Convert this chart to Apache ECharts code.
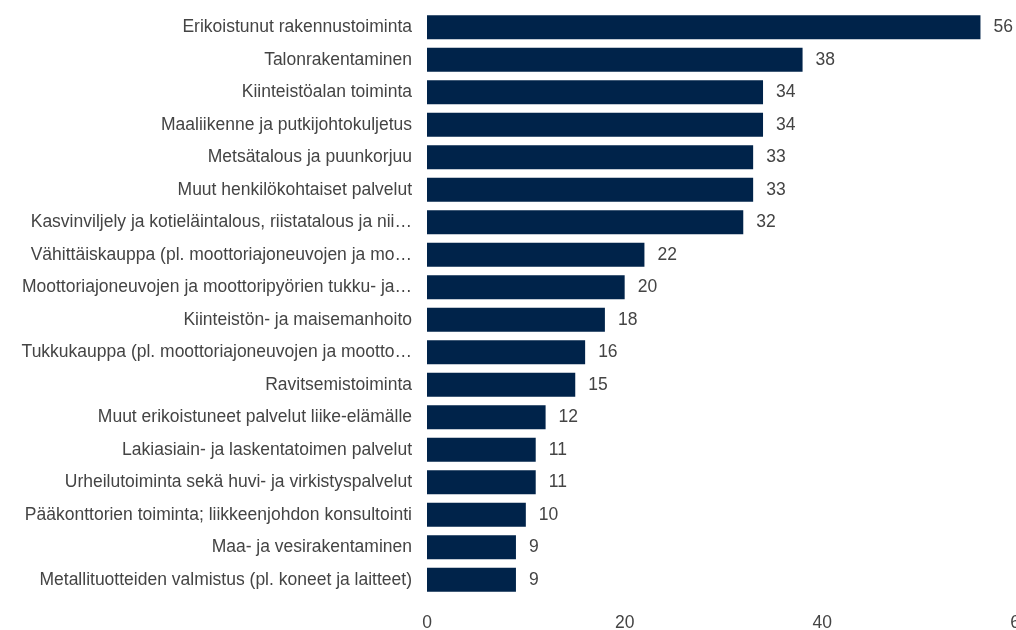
<!DOCTYPE html>
<html>
<head>
<meta charset="utf-8">
<script src="https://cdn.jsdelivr.net/npm/echarts@6/dist/echarts.min.js"></script>
<style>html,body{margin:0;padding:0;background:#fff}#c{width:1016px;height:630px}</style>
</head>
<body>
<div id="c"></div>
<script>
const categories = [
  "Erikoistunut rakennustoiminta",
  "Talonrakentaminen",
  "Kiinteistöalan toiminta",
  "Maaliikenne ja putkijohtokuljetus",
  "Metsätalous ja puunkorjuu",
  "Muut henkilökohtaiset palvelut",
  "Kasvinviljely ja kotieläintalous, riistatalous ja niihin liittyvät palvelut",
  "Vähittäiskauppa (pl. moottoriajoneuvojen ja moottoripyörien kauppa)",
  "Moottoriajoneuvojen ja moottoripyörien tukku- ja vähittäiskauppa sekä korjaus",
  "Kiinteistön- ja maisemanhoito",
  "Tukkukauppa (pl. moottoriajoneuvojen ja moottoripyörien kauppa)",
  "Ravitsemistoiminta",
  "Muut erikoistuneet palvelut liike-elämälle",
  "Lakiasiain- ja laskentatoimen palvelut",
  "Urheilutoiminta sekä huvi- ja virkistyspalvelut",
  "Pääkonttorien toiminta; liikkeenjohdon konsultointi",
  "Maa- ja vesirakentaminen",
  "Metallituotteiden valmistus (pl. koneet ja laitteet)"
];
const values = [56, 38, 34, 34, 33, 33, 32, 22, 20, 18, 16, 15, 12, 11, 11, 10, 9, 9];
const xTicks = [0, 20, 40, 60];

const chart = echarts.init(document.getElementById('c'));
chart.setOption({
  animation: false,
  textStyle: { fontFamily: 'Liberation Sans, Arial, sans-serif' },
  grid: { left: 427, right: -4, top: 11, bottom: 34, containLabel: false, outerBoundsMode: 'none' },
  xAxis: {
    type: 'value', min: xTicks[0], max: xTicks[xTicks.length - 1], interval: 20,
    axisLine: { show: false }, axisTick: { show: false }, splitLine: { show: false },
    axisLabel: { color: '#444', fontSize: 17.5, margin: 18 }
  },
  yAxis: {
    type: 'category', data: categories, inverse: true,
    axisLine: { show: false }, axisTick: { show: false },
    axisLabel: { color: '#444', fontSize: 17.5, margin: 15, width: 392, overflow: 'truncate', ellipsis: '…' }
  },
  series: [{
    type: 'bar', data: values, barCategoryGap: '26%',
    itemStyle: { color: '#00234a' },
    label: { show: true, position: 'right', distance: 13, color: '#444', fontSize: 17.5 }
  }]
});
</script>
</body>
</html>
